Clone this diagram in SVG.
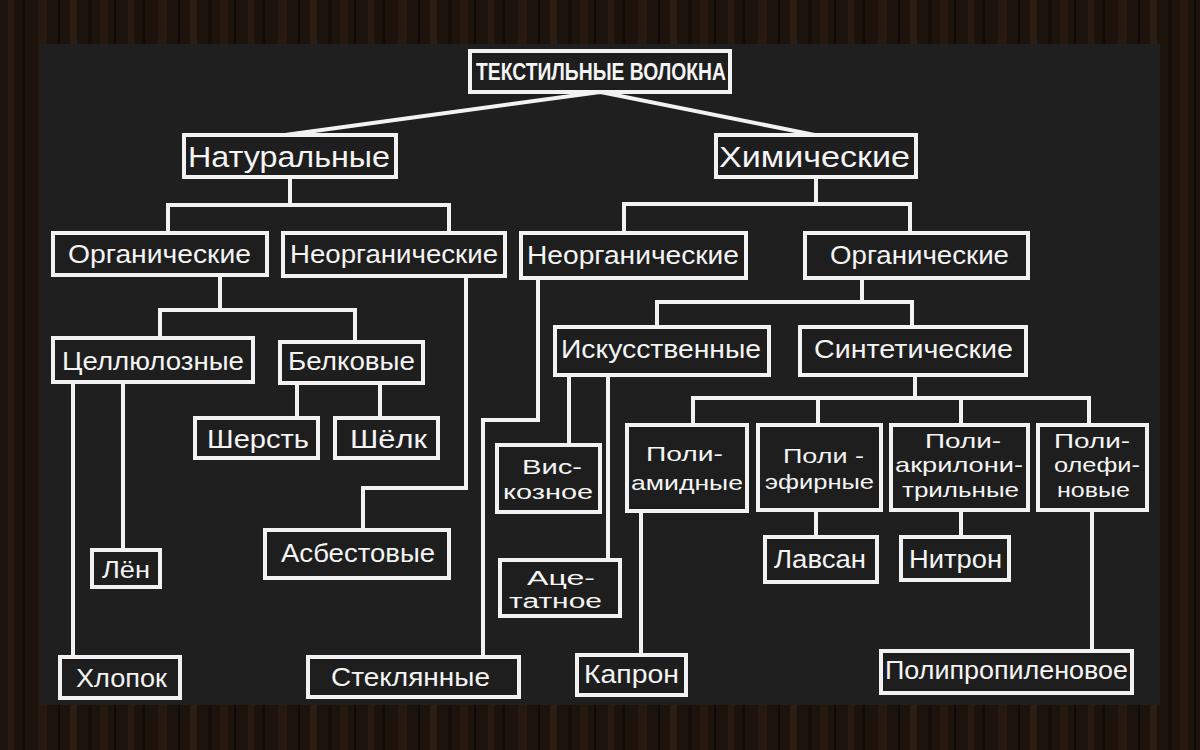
<svg xmlns="http://www.w3.org/2000/svg" width="1200" height="750" viewBox="0 0 1200 750">
<defs>
<pattern id="wood" x="0" y="0" width="120" height="750" patternUnits="userSpaceOnUse">
<rect width="120" height="750" fill="#1d130d"/>
<rect x="8" width="6" height="750" fill="#2a1b12"/>
<rect x="22" width="3" height="750" fill="#130b07"/>
<rect x="38" width="9" height="750" fill="#281a11"/>
<rect x="58" width="2" height="750" fill="#110905"/>
<rect x="70" width="7" height="750" fill="#2d1e14"/>
<rect x="88" width="4" height="750" fill="#160d08"/>
<rect x="100" width="8" height="750" fill="#271910"/>
<rect x="114" width="2" height="750" fill="#0e0704"/>
</pattern>
<style>
.box{fill:#1e1e1e;stroke:#f2f2f2;stroke-width:4}
.ln{stroke:#f2f2f2;stroke-width:4;fill:none;stroke-linecap:square}
.t{font-family:"Liberation Sans",Arial,sans-serif;fill:#f4f4f4}
.tt{font-family:"Liberation Sans",Arial,sans-serif;fill:#f4f4f4;font-weight:bold}
.m{font-size:21px}
</style>
</defs>
<rect width="1200" height="750" fill="url(#wood)"/>
<rect x="40" y="44" width="1120" height="661" fill="#1f1f1f"/>

<g id="connectors">
<path class="ln" d="M600,92 L285,135 M600,92 L815,135"/>
<path class="ln" d="M290,177 V205 M168,233 V205 H449 V233"/>
<path class="ln" d="M816,177 V204 M624,233 V204 H910 V233"/>
<path class="ln" d="M220,275 V310 M160,338 V310 H355 V342"/>
<path class="ln" d="M73,382 V657 M123,382 V550"/>
<path class="ln" d="M297,383 V418 M380,383 V418"/>
<path class="ln" d="M466,276 V488 H363 V530"/>
<path class="ln" d="M538,278 V420 H483 V657"/>
<path class="ln" d="M862,278 V302 M657,327 V302 H912 V327"/>
<path class="ln" d="M569,375 V445 M608,375 V560"/>
<path class="ln" d="M915,375 V398 M693,425 V398 H1089 V425 M818,398 V425 M961,398 V425"/>
<path class="ln" d="M641,511 V655 M816,510 V537 M961,510 V537 M1092,510 V651"/>
</g>

<g id="n-title"><rect class="box" x="470" y="51" width="260" height="41"/><text class="tt" x="476" y="80" font-size="24" textLength="250" lengthAdjust="spacingAndGlyphs">ТЕКСТИЛЬНЫЕ ВОЛОКНА</text></g>
<g id="n-natural"><rect class="box" x="184" y="135" width="212" height="42"/><text class="t" x="188" y="167" font-size="29" textLength="202" lengthAdjust="spacingAndGlyphs">Натуральные</text></g>
<g id="n-chem"><rect class="box" x="716" y="135" width="200" height="42"/><text class="t" x="719" y="167" font-size="29" textLength="191" lengthAdjust="spacingAndGlyphs">Химические</text></g>
<g id="n-org-l"><rect class="box" x="53" y="233" width="214" height="42"/><text class="t" x="68" y="263" font-size="25" textLength="183" lengthAdjust="spacingAndGlyphs">Органические</text></g>
<g id="n-inorg-l"><rect class="box" x="283" y="233" width="222" height="43"/><text class="t" x="290" y="263" font-size="25" textLength="208" lengthAdjust="spacingAndGlyphs">Неорганические</text></g>
<g id="n-inorg-r"><rect class="box" x="521" y="233" width="225" height="45"/><text class="t" x="527" y="264" font-size="25" textLength="212" lengthAdjust="spacingAndGlyphs">Неорганические</text></g>
<g id="n-org-r"><rect class="box" x="805" y="233" width="223" height="45"/><text class="t" x="830" y="264" font-size="25" textLength="179" lengthAdjust="spacingAndGlyphs">Органические</text></g>
<g id="n-cell"><rect class="box" x="53" y="338" width="200" height="44"/><text class="t" x="62" y="370" font-size="25" textLength="182" lengthAdjust="spacingAndGlyphs">Целлюлозные</text></g>
<g id="n-prot"><rect class="box" x="280" y="342" width="143" height="41"/><text class="t" x="288" y="370" font-size="25" textLength="127" lengthAdjust="spacingAndGlyphs">Белковые</text></g>
<g id="n-art"><rect class="box" x="555" y="327" width="214" height="48"/><text class="t" x="561" y="358" font-size="25" textLength="200" lengthAdjust="spacingAndGlyphs">Искусственные</text></g>
<g id="n-syn"><rect class="box" x="800" y="327" width="226" height="48"/><text class="t" x="814" y="358" font-size="25" textLength="199" lengthAdjust="spacingAndGlyphs">Синтетические</text></g>
<g id="n-wool"><rect class="box" x="195" y="418" width="123" height="40"/><text class="t" x="207" y="448" font-size="26" textLength="102" lengthAdjust="spacingAndGlyphs">Шерсть</text></g>
<g id="n-silk"><rect class="box" x="335" y="418" width="103" height="40"/><text class="t" x="350" y="448" font-size="26" textLength="77" lengthAdjust="spacingAndGlyphs">Шёлк</text></g>
<g id="n-flax"><rect class="box" x="92" y="550" width="68" height="37"/><text class="t" x="102" y="578" font-size="24" textLength="48" lengthAdjust="spacingAndGlyphs">Лён</text></g>
<g id="n-cotton"><rect class="box" x="60" y="657" width="120" height="41"/><text class="t" x="76" y="687" font-size="25" textLength="91" lengthAdjust="spacingAndGlyphs">Хлопок</text></g>
<g id="n-asb"><rect class="box" x="265" y="530" width="184" height="48"/><text class="t" x="281" y="562" font-size="25" textLength="154" lengthAdjust="spacingAndGlyphs">Асбестовые</text></g>
<g id="n-glass"><rect class="box" x="308" y="657" width="211" height="40"/><text class="t" x="331" y="686" font-size="25" textLength="159" lengthAdjust="spacingAndGlyphs">Стеклянные</text></g>
<g id="n-visc"><rect class="box" x="497" y="445" width="103" height="67"/><text class="t m" x="522" y="474" textLength="60" lengthAdjust="spacingAndGlyphs">Вис-</text><text class="t m" x="503" y="499" textLength="90" lengthAdjust="spacingAndGlyphs">козное</text></g>
<g id="n-acet"><rect class="box" x="500" y="560" width="120" height="56"/><text class="t" x="527" y="585" font-size="20" textLength="68" lengthAdjust="spacingAndGlyphs">Аце-</text><text class="t" x="509" y="608" font-size="20" textLength="93" lengthAdjust="spacingAndGlyphs">татное</text></g>
<g id="n-pa"><rect class="box" x="627" y="425" width="120" height="86"/><text class="t m" x="646" y="461" textLength="77" lengthAdjust="spacingAndGlyphs">Поли-</text><text class="t m" x="631" y="490" textLength="112" lengthAdjust="spacingAndGlyphs">амидные</text></g>
<g id="n-pe"><rect class="box" x="758" y="425" width="123" height="85"/><text class="t m" x="783" y="463" textLength="81" lengthAdjust="spacingAndGlyphs">Поли -</text><text class="t m" x="765" y="489" textLength="109" lengthAdjust="spacingAndGlyphs">эфирные</text></g>
<g id="n-pan"><rect class="box" x="891" y="425" width="137" height="85"/><text class="t m" x="925" y="448" textLength="76" lengthAdjust="spacingAndGlyphs">Поли-</text><text class="t m" x="895" y="472" textLength="128" lengthAdjust="spacingAndGlyphs">акрилони-</text><text class="t m" x="902" y="497" textLength="117" lengthAdjust="spacingAndGlyphs">трильные</text></g>
<g id="n-po"><rect class="box" x="1038" y="425" width="109" height="85"/><text class="t m" x="1054" y="448" textLength="76" lengthAdjust="spacingAndGlyphs">Поли-</text><text class="t m" x="1054" y="472" textLength="86" lengthAdjust="spacingAndGlyphs">олефи-</text><text class="t m" x="1057" y="497" textLength="73" lengthAdjust="spacingAndGlyphs">новые</text></g>
<g id="n-lavsan"><rect class="box" x="765" y="537" width="112" height="45"/><text class="t" x="774" y="568" font-size="25" textLength="92" lengthAdjust="spacingAndGlyphs">Лавсан</text></g>
<g id="n-nitron"><rect class="box" x="901" y="537" width="108" height="43"/><text class="t" x="909" y="568" font-size="25" textLength="93" lengthAdjust="spacingAndGlyphs">Нитрон</text></g>
<g id="n-kapron"><rect class="box" x="577" y="655" width="109" height="40"/><text class="t" x="584" y="683" font-size="25" textLength="95" lengthAdjust="spacingAndGlyphs">Капрон</text></g>
<g id="n-pp"><rect class="box" x="881" y="651" width="251" height="42"/><text class="t" x="885" y="679" font-size="25" textLength="243" lengthAdjust="spacingAndGlyphs">Полипропиленовое</text></g>
</svg>
